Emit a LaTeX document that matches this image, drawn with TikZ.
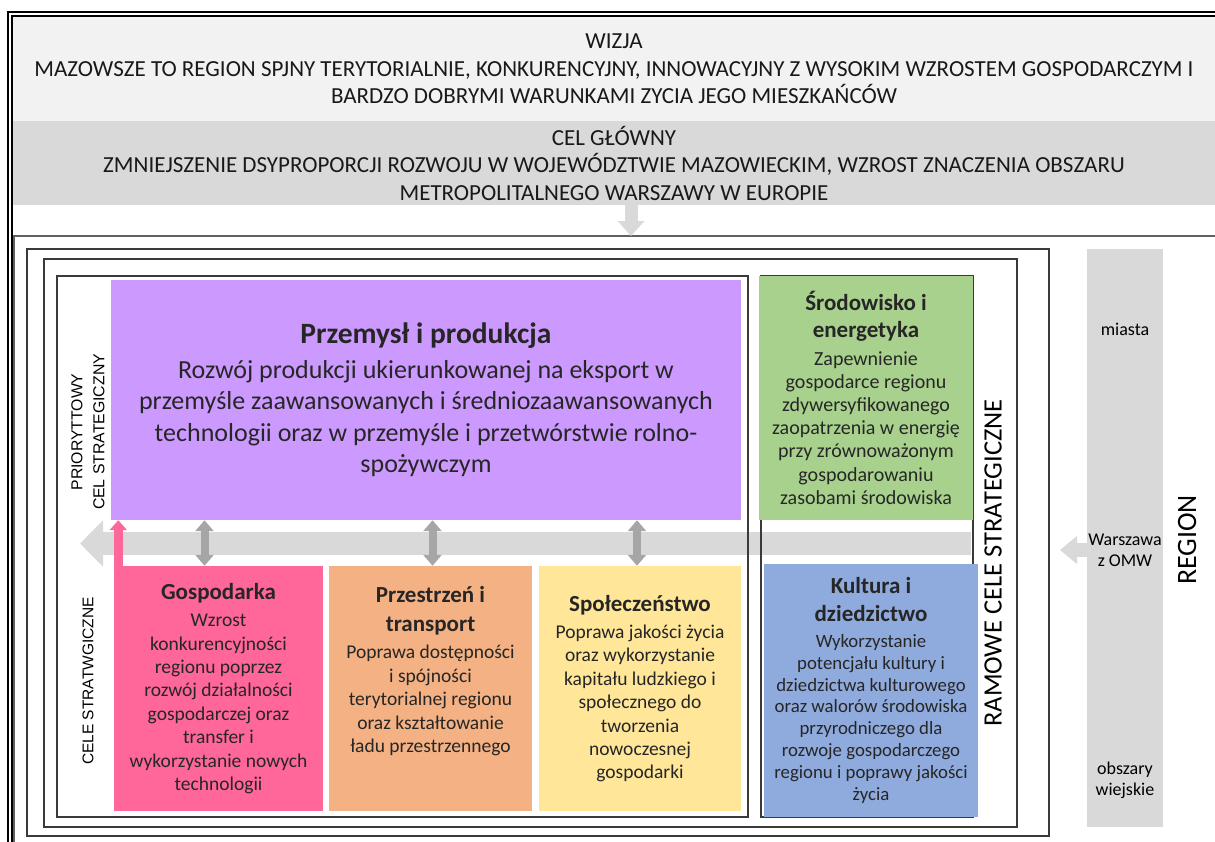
\documentclass[tikz,border=0pt]{standalone}
\usepackage{fontspec}
\setmainfont{Carlito}
\newfontfamily\arialfont{Liberation Sans}
\usetikzlibrary{arrows.meta,positioning}
\definecolor{bandlight}{HTML}{F2F2F2}
\definecolor{banddark}{HTML}{D9D9D9}
\definecolor{arrowdark}{HTML}{A6A6A6}
\definecolor{framegrey}{HTML}{3A3A3A}
\definecolor{violetbox}{HTML}{CC99FF}
\definecolor{greenbox}{HTML}{A9D18E}
\definecolor{pinkbox}{HTML}{FF6699}
\definecolor{orangebox}{HTML}{F4B183}
\definecolor{yellowbox}{HTML}{FFE699}
\definecolor{bluebox}{HTML}{8FAADC}
\newcommand\goaltitle[1]{{\bfseries\fontsize{23}{28}\selectfont #1}}
\begin{document}
\begin{tikzpicture}[x=1pt,y=-1pt,
    band/.style={inner sep=0pt,align=center,text=black!90,
      font=\fontsize{23}{27.5}\selectfont},
    goalbox/.style={inner sep=0pt,align=center,text=black!85,
      font=\fontsize{19.5}{23.4}\selectfont},
    frameline/.style={framegrey,line width=1.1pt},
    sidelabel/.style={rotate=90,align=center,inner sep=0pt},
    duplex/.style={arrowdark,line width=8pt,
      {Triangle[width=18pt,length=11pt]}-{Triangle[width=18pt,length=11pt]}},
    regiontext/.style={align=center,inner sep=0pt,
      font=\fontsize{18}{21}\selectfont}]
  \useasboundingbox (0,0) rectangle (1215,841);
  % vision and main goal
  \node[band,fill=bandlight,minimum width=1202,minimum height=104] (wizja) at (614,69)
    {WIZJA\\
     MAZOWSZE TO REGION SPJNY TERYTORIALNIE, KONKURENCYJNY, INNOWACYJNY Z WYSOKIM WZROSTEM GOSPODARCZYM I\\
     BARDZO DOBRYMI WARUNKAMI ZYCIA JEGO MIESZKAŃCÓW};
  \node[band,fill=banddark,minimum width=1202,minimum height=84] (cel) at (614,163)
    {CEL GŁÓWNY\\
     ZMNIEJSZENIE DSYPROPORCJI ROZWOJU W WOJEWÓDZTWIE MAZOWIECKIM, WZROST ZNACZENIA OBSZARU\\
     METROPOLITALNEGO WARSZAWY W EUROPIE};
  \draw[black,line width=1.6pt] (8,850) -- (8,12) -- (1220,12);
  \draw[black,line width=1.6pt] (12,850) -- (12,16) -- (1220,16);
  \coordinate (frameNW) at (14,236);
  \draw[framegrey!80,line width=1.2pt] (14,850) -- (frameNW) -- (1220,236);
  \draw[banddark,line width=13pt,-{Triangle[width=26pt,length=15pt]}]
    ([xshift=17pt]cel.south) -- ([xshift=17pt]cel.south |- frameNW);
  % horizontal link
  \coordinate (linkE) at (971,543.5);
  \coordinate (linkW) at (80,543.5);
  \draw[banddark,line width=23pt,-{Triangle[width=45pt,length=23pt]}] (linkE) -- (linkW);
  % frames
  \draw[frameline] (27,249) rectangle (1049,836);
  \draw[frameline] (44,259) rectangle (1017,827);
  \draw[frameline] (57,276) rectangle (748,817);
  \draw[frameline] (761,276) rectangle (973,817);
  % goals
  \node[goalbox,fill=violetbox,minimum width=630,minimum height=240,
    font=\fontsize{26}{31.5}\selectfont] (prod) at (426,400)
    {{\bfseries\fontsize{29.5}{34}\selectfont Przemysł i produkcja}\\[3pt]
     Rozwój produkcji ukierunkowanej na eksport w\\
     przemyśle zaawansowanych i średniozaawansowanych\\
     technologii oraz w przemyśle i przetwórstwie rolno-\\
     spożywczym};
  \node[goalbox,fill=greenbox,minimum width=214,minimum height=244,
    font=\fontsize{20}{23.2}\selectfont] (srod) at (866,398)
    {\goaltitle{Środowisko i}\\[4pt] \goaltitle{energetyka}\\[4pt]
     Zapewnienie\\ gospodarce regionu\\ zdywersyfikowanego\\
     zaopatrzenia w energię\\ przy zrównoważonym\\ gospodarowaniu\\
     zasobami środowiska};
  \node[goalbox,fill=pinkbox,minimum width=209,minimum height=245] (gosp) at (218.5,688.5)
    {\goaltitle{Gospodarka}\\[4pt]
     Wzrost\\ konkurencyjności\\ regionu poprzez\\ rozwój działalności\\
     gospodarczej oraz\\ transfer i\\ wykorzystanie nowych\\ technologii};
  \node[goalbox,fill=orangebox,minimum width=203,minimum height=245] (przes) at (430.5,688.5) {};
  \node[goalbox,anchor=north] (przestxt) at ([yshift=-20pt]przes.north)
    {\goaltitle{Przestrzeń i}\\[6pt] \goaltitle{transport}\\[4pt]
     Poprawa dostępności\\ i spójności\\ terytorialnej regionu\\
     oraz kształtowanie\\ ładu przestrzennego};
  \node[goalbox,fill=yellowbox,minimum width=202,minimum height=245] (spol) at (640,688.5)
    {\goaltitle{Społeczeństwo}\\[4pt]
     Poprawa jakości życia\\ oraz wykorzystanie\\ kapitału ludzkiego i\\
     społecznego do\\ tworzenia\\ nowoczesnej\\ gospodarki};
  \node[goalbox,fill=bluebox,minimum width=214,minimum height=253,
    font=\fontsize{18.8}{21.8}\selectfont] (kult) at (871,690.5)
    {\goaltitle{Kultura i}\\[6pt] \goaltitle{dziedzictwo}\\[4pt]
     Wykorzystanie\\ potencjału kultury i\\ dziedzictwa kulturowego\\
     oraz walorów środowiska\\ przyrodniczego dla\\ rozwoje gospodarczego\\
     regionu i poprawy jakości\\ życia};
  % links between goals
  \draw[pinkbox,line width=9pt,-{Triangle[width=17pt,length=10pt]}]
    ([xshift=4.5pt]gosp.north west) -- ([xshift=4.5pt]gosp.north west |- prod.south);
  \draw[duplex] ([xshift=-14pt]gosp.north) -- ([xshift=-14pt]gosp.north |- prod.south);
  \draw[duplex] ([xshift=2pt]przes.north) -- ([xshift=2pt]przes.north |- prod.south);
  \draw[duplex] ([xshift=-3pt]spol.north) -- ([xshift=-3pt]spol.north |- prod.south);
  % side labels
  \node[sidelabel,font=\arialfont\fontsize{15.8}{22}\selectfont] (prio) at (88,432)
    {PRIORYTTOWY\\CEL STRATEGICZNY};
  \node[sidelabel,font=\arialfont\fontsize{15.5}{20}\selectfont] (celestr) at (88,681)
    {CELE STRATWGICZNE};
  \node[sidelabel,font=\fontsize{26.5}{30}\selectfont] (ramowe) at (993,563)
    {RAMOWE CELE STRATEGICZNE};
  % region
  \node[fill=banddark,minimum width=76,minimum height=578,inner sep=0pt] (region) at (1125,538) {};
  \node[regiontext] (miasta) at (1125,329) {miasta};
  \node[regiontext] (omw) at (1125,550.5) {Warszawa\\z OMW};
  \node[regiontext] (wies) at (1125,780) {obszary\\wiejskie};
  \coordinate (omwtip) at (1060,550);
  \draw[banddark,line width=14pt,-{Triangle[width=27pt,length=17pt]}]
    (region.west |- omwtip) -- (omwtip);
  \node[sidelabel,font=\fontsize{28}{32}\selectfont] (regionlbl) at (1187,540) {REGION};
\end{tikzpicture}
\end{document}
